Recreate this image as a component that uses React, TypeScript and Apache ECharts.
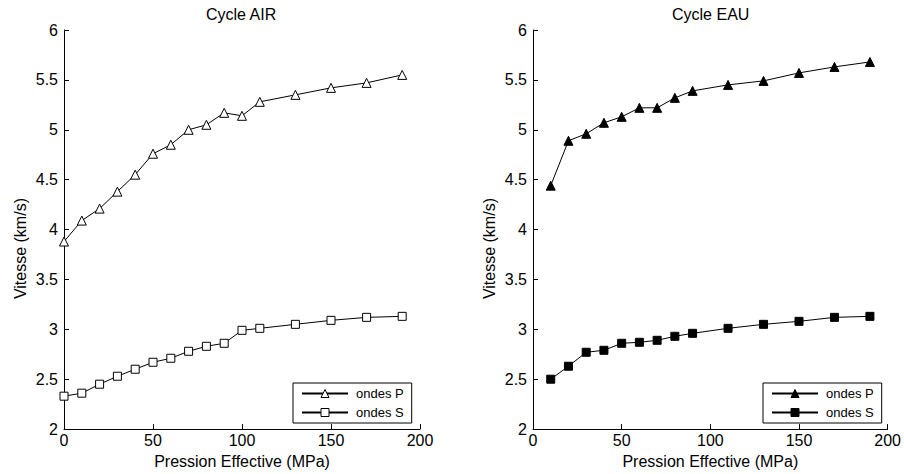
import React, { useEffect, useRef } from "react";
import * as echarts from "echarts";

const titles = ["Cycle AIR", "Cycle EAU"];
const xName = "Pression Effective (MPa)";
const yName = "Vitesse (km/s)";
const seriesNames = ["ondes P", "ondes S"];

const pressureAir = [0, 10, 20, 30, 40, 50, 60, 70, 80, 90, 100, 110, 130, 150, 170, 190];
const airP = [3.88, 4.09, 4.21, 4.38, 4.55, 4.76, 4.85, 5.0, 5.05, 5.17, 5.14, 5.28, 5.35, 5.42, 5.47, 5.55];
const airS = [2.33, 2.36, 2.45, 2.53, 2.6, 2.67, 2.71, 2.78, 2.83, 2.86, 2.99, 3.01, 3.05, 3.09, 3.12, 3.13];

const pressureEau = [10, 20, 30, 40, 50, 60, 70, 80, 90, 110, 130, 150, 170, 190];
const eauP = [4.44, 4.89, 4.96, 5.07, 5.13, 5.22, 5.22, 5.32, 5.39, 5.45, 5.49, 5.57, 5.63, 5.68];
const eauS = [2.5, 2.63, 2.77, 2.79, 2.86, 2.87, 2.89, 2.93, 2.96, 3.01, 3.05, 3.08, 3.12, 3.13];

const FONT = "'Liberation Sans', Arial, Helvetica, sans-serif";
const FS = 16;

function pairs(xs: number[], ys: number[]) {
  return xs.map((x, i) => [x, ys[i]]);
}

export default function App() {
  const ref = useRef<HTMLDivElement>(null);

  useEffect(() => {
    if (!ref.current) return;
    const chart = echarts.init(ref.current, undefined, { renderer: "svg" });

    const xAxisBase = (gridIndex: number) => ({
      type: "value",
      gridIndex,
      min: 0,
      max: 200,
      interval: 50,
      name: xName,
      nameLocation: "middle",
      nameGap: 21,
      nameTextStyle: { fontFamily: FONT, fontSize: FS, color: "#000" },
      axisLine: { show: true, onZero: false, lineStyle: { color: "#000", width: 1 } },
      axisTick: { show: true, inside: true, length: 5, lineStyle: { color: "#000" } },
      axisLabel: { fontFamily: FONT, fontSize: FS, color: "#000", margin: 3 },
      splitLine: { show: false },
    });

    const yAxisBase = (gridIndex: number) => ({
      type: "value",
      gridIndex,
      min: 2,
      max: 6,
      interval: 0.5,
      name: yName,
      nameLocation: "middle",
      nameGap: 36,
      nameTextStyle: { fontFamily: FONT, fontSize: FS, color: "#000", padding: [0, 38, 0, 0] },
      axisLine: { show: true, onZero: false, lineStyle: { color: "#000", width: 1 } },
      axisTick: { show: true, inside: true, length: 5, lineStyle: { color: "#000" } },
      axisLabel: { fontFamily: FONT, fontSize: FS, color: "#000", margin: 6 },
      splitLine: { show: false },
    });

    const openStyle = { color: "#fff", borderColor: "#000", borderWidth: 1 };
    const filledStyle = { color: "#000", borderColor: "#000", borderWidth: 1 };

    const mkSeries = (
      name: string,
      idx: number,
      data: number[][],
      symbol: string,
      size: number,
      itemStyle: any
    ) => ({
      type: "line",
      name,
      xAxisIndex: idx,
      yAxisIndex: idx,
      data,
      symbol,
      symbolSize: size,
      showAllSymbol: true,
      lineStyle: { color: "#000", width: 1 },
      itemStyle,
      emphasis: { disabled: true },
    });

    const legendBase = {
      orient: "vertical",
      top: 383,
      padding: [4, 8, 4, 8],
      itemGap: 6,
      itemWidth: 46,
      itemHeight: 10,
      borderColor: "#000",
      borderWidth: 1,
      backgroundColor: "#fff",
      textStyle: { fontFamily: FONT, fontSize: 13, color: "#000", padding: [0, 0, 0, 3] },
      selectedMode: false,
    };

    const titleStyle = { fontFamily: FONT, fontSize: FS, fontWeight: "normal", color: "#000" };

    chart.setOption({
      animation: false,
      backgroundColor: "#fff",
      title: [
        { text: titles[0], left: 206, top: 6, padding: 0, textStyle: titleStyle },
        { text: titles[1], left: 672, top: 6, padding: 0, textStyle: titleStyle },
      ],
      grid: [
        { left: 64, top: 30, width: 356, height: 400 },
        { left: 533, top: 30, width: 357, height: 400 },
      ],
      xAxis: [xAxisBase(0), xAxisBase(1)],
      yAxis: [yAxisBase(0), yAxisBase(1)],
      legend: [
        {
          ...legendBase,
          left: 293,
          data: [
            { name: seriesNames[0], itemStyle: openStyle },
            { name: seriesNames[1], itemStyle: openStyle },
          ],
        },
        {
          ...legendBase,
          left: 763,
          data: [
            { name: seriesNames[0], itemStyle: filledStyle },
            { name: seriesNames[1], itemStyle: filledStyle },
          ],
        },
      ],
      series: [
        mkSeries(seriesNames[0], 0, pairs(pressureAir, airP), "triangle", 9, openStyle),
        mkSeries(seriesNames[1], 0, pairs(pressureAir, airS), "rect", 8, openStyle),
        mkSeries(seriesNames[0], 1, pairs(pressureEau, eauP), "triangle", 9, filledStyle),
        mkSeries(seriesNames[1], 1, pairs(pressureEau, eauS), "rect", 8, filledStyle),
      ],
    });

    return () => chart.dispose();
  }, []);

  return (
    <div
      ref={ref}
      style={{ position: "fixed", left: 0, top: 0, width: 904, height: 474, overflow: "hidden" }}
    />
  );
}
